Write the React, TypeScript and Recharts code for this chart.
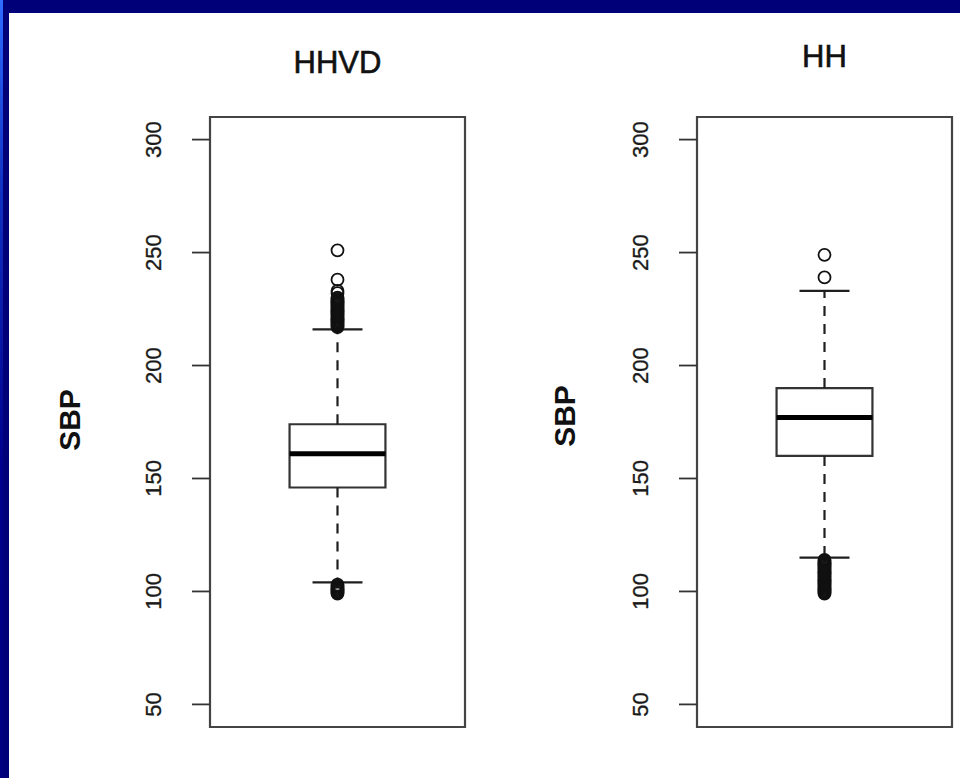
import React from 'react';
import { ScatterChart, Scatter, XAxis, YAxis, ReferenceArea, ReferenceLine } from 'recharts';

// box plot summaries, one entry per group
const groups = ['HHVD', 'HH'];
const lowerWhisker = [104, 115];
const q1 = [146, 160];
const median = [161, 177];
const q3 = [174, 190];
const upperWhisker = [216, 233];

// outliers (the solid blobs are many close values)
const outliersHHVD = [
  251, 238, 233, 232,
  230, 229.5, 229, 228.5, 228, 227.5, 227, 226.5, 226, 225.5, 225, 224.5, 224, 223.5,
  223, 222.5, 222, 221.5, 221, 220.5, 220, 219.5, 219, 218.5, 218, 217.5, 217,
  103, 102.5, 102, 101.5, 101, 100.5, 100, 99.5, 99,
];
const outliersHH = [
  249, 239,
  114, 113.5, 113, 112.5, 112, 111.5, 111, 110.5, 110, 109.5, 109, 108.5, 108, 107.5,
  107, 106.5, 106, 105.5, 105, 104.5, 104, 103.5, 103, 102.5, 102, 101.5, 101, 100.5,
  100, 99.5, 99,
];

const yTicks = [50, 100, 150, 200, 250, 300];
const yDomain: [number, number] = [40, 310];

const FONT = '"Liberation Sans", Arial, sans-serif';
const NAVY = '#000078';
const BOX_HALF = 0.376;
const CAP_HALF = 0.196;

const renderTick = (props: any) => {
  const { x, y, payload } = props;
  return (
    <text
      x={x}
      y={y}
      transform={`rotate(-90, ${x}, ${y})`}
      textAnchor="middle"
      dominantBaseline="central"
      fontSize={22}
      fontFamily={FONT}
      fill="#1a1a1a"
      stroke="#1a1a1a"
      strokeWidth={0.35}
    >
      {payload.value}
    </text>
  );
};

const renderOutlier = (props: any) => (
  <circle cx={props.cx} cy={props.cy} r={6} fill="none" stroke="#111" strokeWidth={1.8} />
);

interface PanelProps {
  i: number;
  outliers: number[];
  left: number;
  marginLeft: number;
  marginRight: number;
  labelX: number;
  labelY: number;
  titleTop: number;
}

function BoxPanel({ i, outliers, left, marginLeft, marginRight, labelX, labelY, titleTop }: PanelProps) {
  const points = outliers.map((v) => ({ x: 1, y: v }));
  const plotLeft = marginLeft + 110;
  const plotWidth = 480 - plotLeft - marginRight;
  const line = { stroke: '#1f1f1f', strokeWidth: 2.2 };

  return (
    <div style={{ position: 'absolute', left, top: 0, width: 480, height: 778 }}>
      <div
        style={{
          position: 'absolute',
          top: titleTop,
          left: plotLeft,
          width: plotWidth,
          textAlign: 'center',
          fontFamily: FONT,
          fontSize: 31,
          lineHeight: '31px',
          color: '#111',
          WebkitTextStroke: '0.6px #111',
        }}
      >
        {groups[i]}
      </div>
      <ScatterChart
        width={480}
        height={778}
        margin={{ top: 117, bottom: 51, left: marginLeft, right: marginRight }}
      >
        <XAxis type="number" dataKey="x" domain={[0, 2]} hide />
        <YAxis
          type="number"
          dataKey="y"
          domain={yDomain}
          ticks={yTicks}
          interval={0}
          width={110}
          axisLine={false}
          tickSize={18}
          tickMargin={38}
          tickLine={{ stroke: '#333', strokeWidth: 1.8 }}
          tick={renderTick}
          allowDataOverflow
          label={{
            content: () => (
              <text
                x={labelX}
                y={labelY}
                transform={`rotate(-90, ${labelX}, ${labelY})`}
                textAnchor="middle"
                dominantBaseline="central"
                fontSize={30}
                fontWeight="bold"
                fontFamily={FONT}
                fill="#111"
              >
                SBP
              </text>
            ),
          }}
        />
        <ReferenceArea x1={0} x2={2} y1={yDomain[0]} y2={yDomain[1]} fill="none" stroke="#444" strokeWidth={2.2} />
        <ReferenceLine
          segment={[{ x: 1, y: q3[i] }, { x: 1, y: upperWhisker[i] }]}
          {...line}
          strokeDasharray="10 8"
        />
        <ReferenceLine
          segment={[{ x: 1, y: q1[i] }, { x: 1, y: lowerWhisker[i] }]}
          {...line}
          strokeDasharray="10 8"
        />
        <ReferenceLine
          segment={[{ x: 1 - CAP_HALF, y: upperWhisker[i] }, { x: 1 + CAP_HALF, y: upperWhisker[i] }]}
          {...line}
        />
        <ReferenceLine
          segment={[{ x: 1 - CAP_HALF, y: lowerWhisker[i] }, { x: 1 + CAP_HALF, y: lowerWhisker[i] }]}
          {...line}
        />
        <ReferenceArea
          x1={1 - BOX_HALF}
          x2={1 + BOX_HALF}
          y1={q1[i]}
          y2={q3[i]}
          fill="#fff"
          fillOpacity={1}
          stroke="#333"
          strokeWidth={2.2}
        />
        <ReferenceLine
          segment={[{ x: 1 - BOX_HALF, y: median[i] }, { x: 1 + BOX_HALF, y: median[i] }]}
          stroke="#000"
          strokeWidth={5}
        />
        <Scatter data={points} isAnimationActive={false} shape={renderOutlier} />
      </ScatterChart>
    </div>
  );
}

export default function App() {
  return (
    <div
      style={{
        position: 'absolute',
        left: 0,
        top: 0,
        width: 960,
        height: 778,
        background: '#fff',
        overflow: 'hidden',
      }}
    >
      <div style={{ position: 'absolute', left: 0, top: 0, width: 960, height: 13, background: NAVY }} />
      <div
        style={{
          position: 'absolute',
          left: 0,
          top: 0,
          width: 9,
          height: 778,
          background: NAVY,
        }}
      />
      <div
        style={{
          position: 'absolute',
          left: 0,
          top: 0,
          width: 3,
          height: 778,
          background: 'linear-gradient(#2f6cff, #1030c0 25%, #00008c 60%, #000080)',
        }}
      />
      <BoxPanel
        i={0}
        outliers={outliersHHVD}
        left={0}
        marginLeft={100}
        marginRight={15}
        labelX={69}
        labelY={420}
        titleTop={47}
      />
      <BoxPanel
        i={1}
        outliers={outliersHH}
        left={480}
        marginLeft={107}
        marginRight={8}
        labelX={84}
        labelY={416}
        titleTop={41}
      />
    </div>
  );
}
